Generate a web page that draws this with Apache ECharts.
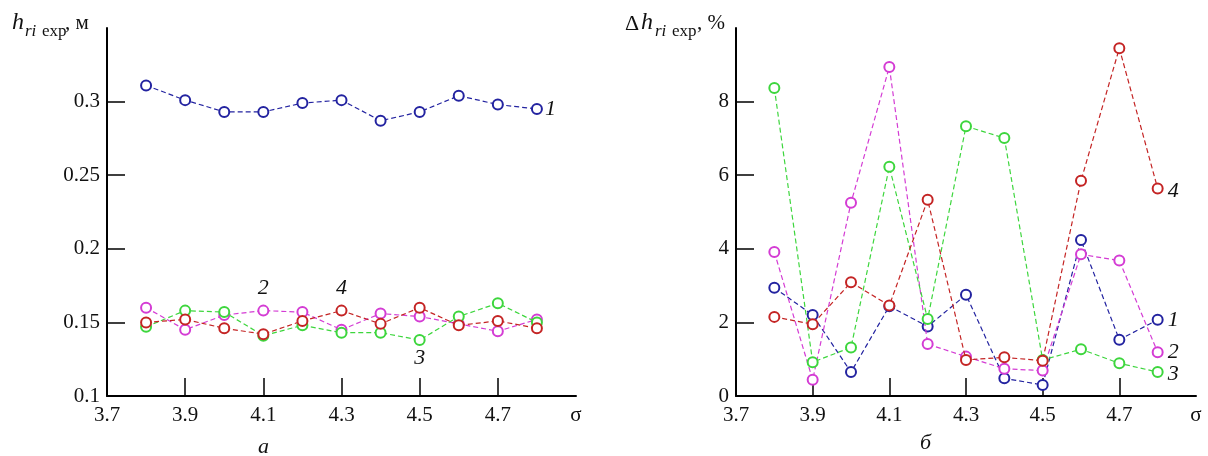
<!DOCTYPE html>
<html>
<head>
<meta charset="utf-8">
<script src="https://cdn.jsdelivr.net/npm/echarts@6/dist/echarts.min.js"></script>
<style>
html,body{margin:0;padding:0;background:#fff;}
#chart{width:1208px;height:456px;}
</style>
</head>
<body>
<div id="chart"></div>
<script>
// ---- data ----
const sigma = [3.8, 3.9, 4.0, 4.1, 4.2, 4.3, 4.4, 4.5, 4.6, 4.7, 4.8];
// panel a: h_ri exp, m
const hSeries1 = [0.311, 0.301, 0.293, 0.293, 0.299, 0.301, 0.287, 0.293, 0.304, 0.298, 0.295];
const hSeries2 = [0.160, 0.145, 0.155, 0.158, 0.157, 0.145, 0.156, 0.154, 0.149, 0.144, 0.152];
const hSeries3 = [0.147, 0.158, 0.157, 0.141, 0.148, 0.143, 0.143, 0.138, 0.154, 0.163, 0.150];
const hSeries4 = [0.150, 0.152, 0.146, 0.142, 0.151, 0.158, 0.149, 0.160, 0.148, 0.151, 0.146];
// panel б: Δh_ri exp, %
const dSeries1 = [2.94, 2.20, 0.65, 2.44, 1.89, 2.75, 0.48, 0.30, 4.24, 1.53, 2.07];
const dSeries2 = [3.91, 0.44, 5.25, 8.94, 1.41, 1.07, 0.74, 0.69, 3.85, 3.68, 1.19];
const dSeries3 = [8.37, 0.92, 1.32, 6.23, 2.09, 7.33, 7.01, 0.98, 1.27, 0.89, 0.65];
const dSeries4 = [2.15, 1.95, 3.09, 2.46, 5.33, 0.98, 1.05, 0.96, 5.85, 9.45, 5.64];
// tick labels
const xTickLabels = [3.7, 3.9, 4.1, 4.3, 4.5, 4.7];
const xTicks = [3.9, 4.1, 4.3, 4.5, 4.7];
const hTickLabels = [0.1, 0.15, 0.2, 0.25, 0.3];
const hTicks = [0.15, 0.2, 0.25, 0.3];
const dTickLabels = [0, 2, 4, 6, 8];
const dTicks = [2, 4, 6, 8];
const seriesNames = ['1', '2', '3', '4'];

const colors = ['#2323a0', '#d43cd4', '#3dd63d', '#c42424'];
const serif = '"Liberation Serif", "DejaVu Serif", serif';

function mkData(arr, labelIdx, labelText, pos, offset) {
  return arr.map((v, i) => {
    if (i === labelIdx) {
      return {
        value: [sigma[i], v],
        label: {
          show: true, formatter: labelText, position: pos, distance: 4,
          offset: offset || [0, 0],
          fontFamily: serif, fontStyle: 'italic', fontSize: 22, color: '#111'
        }
      };
    }
    return [sigma[i], v];
  });
}

function mkSeries(idx, axisIdx, data) {
  return {
    type: 'line', xAxisIndex: axisIdx, yAxisIndex: axisIdx,
    data: data,
    symbol: 'emptyCircle', symbolSize: 10,
    lineStyle: { color: colors[idx], width: 1.2, type: [5, 3] },
    itemStyle: { color: colors[idx], borderColor: colors[idx], borderWidth: 1.3 },
    emphasis: { disabled: true },
    animation: false, z: 3 + idx
  };
}

const baseAxisLine = { show: true, lineStyle: { color: '#000', width: 2 } };
const tickStyle = { show: true, inside: true, length: 18, lineStyle: { color: '#000', width: 1.5 } };
const labelStyle = { fontFamily: serif, fontSize: 21, color: '#111' };

function xAxisCfg(gridIndex) {
  return {
    type: 'value', gridIndex: gridIndex, min: 3.7, max: 4.9, interval: 0.2,
    axisLine: baseAxisLine,
    axisTick: Object.assign({}, tickStyle, { customValues: xTicks }),
    axisLabel: Object.assign({}, labelStyle, {
      margin: 9, showMaxLabel: true,
      customValues: xTickLabels.concat([4.9]),
      formatter: function (v) {
        const r = Math.round(v * 10) / 10;
        if (Math.abs(r - 4.9) < 1e-6) return 'σ';
        return r.toFixed(1);
      }
    }),
    splitLine: { show: false }
  };
}

const option = {
  backgroundColor: '#fff',
  animation: false,
  grid: [
    { left: 107, top: 28, width: 469, height: 368 },
    { left: 736, top: 28, width: 460, height: 368 }
  ],
  xAxis: [xAxisCfg(0), xAxisCfg(1)],
  yAxis: [
    {
      type: 'value', gridIndex: 0, min: 0.1, max: 0.35, interval: 0.05,
      axisLine: baseAxisLine,
      axisTick: Object.assign({}, tickStyle, { customValues: hTicks }),
      axisLabel: Object.assign({}, labelStyle, {
        margin: 7, customValues: hTickLabels,
        formatter: function (v) { return String(Math.round(v * 100) / 100); }
      }),
      splitLine: { show: false }
    },
    {
      type: 'value', gridIndex: 1, min: 0, max: 10, interval: 2,
      axisLine: baseAxisLine,
      axisTick: Object.assign({}, tickStyle, { customValues: dTicks }),
      axisLabel: Object.assign({}, labelStyle, {
        margin: 7, customValues: dTickLabels,
        formatter: function (v) { return String(Math.round(v)); }
      }),
      splitLine: { show: false }
    }
  ],
  series: [
    mkSeries(0, 0, mkData(hSeries1, 10, seriesNames[0], 'right', [-2, 0])),
    mkSeries(1, 0, mkData(hSeries2, 3, seriesNames[1], 'top', [0, -1])),
    mkSeries(2, 0, mkData(hSeries3, 7, seriesNames[2], 'bottom', [0, -3])),
    mkSeries(3, 0, mkData(hSeries4, 5, seriesNames[3], 'top', [0, -1])),
    mkSeries(0, 1, mkData(dSeries1, 10, seriesNames[0], 'right')),
    mkSeries(1, 1, mkData(dSeries2, 10, seriesNames[1], 'right')),
    mkSeries(2, 1, mkData(dSeries3, 10, seriesNames[2], 'right', [0, 2])),
    mkSeries(3, 1, mkData(dSeries4, 10, seriesNames[3], 'right', [0, 3]))
  ],
  graphic: [
    // left title: h_ri exp, м
    { type: 'text', left: 12, top: 11, style: { text: 'h', font: 'italic 24px ' + serif, fill: '#111' } },
    { type: 'text', left: 25, top: 23, style: { text: 'ri', font: 'italic 17px ' + serif, fill: '#111' } },
    { type: 'text', left: 42, top: 23, style: { text: 'exp', font: '17px ' + serif, fill: '#111' } },
    { type: 'text', left: 65, top: 13, style: { text: ', м', font: '21px ' + serif, fill: '#111' } },
    // right title: Δh_ri exp, %
    { type: 'text', left: 625, top: 13, style: { text: 'Δ', font: '22px ' + serif, fill: '#111' } },
    { type: 'text', left: 641, top: 11, style: { text: 'h', font: 'italic 24px ' + serif, fill: '#111' } },
    { type: 'text', left: 655, top: 23, style: { text: 'ri', font: 'italic 17px ' + serif, fill: '#111' } },
    { type: 'text', left: 672, top: 23, style: { text: 'exp', font: '17px ' + serif, fill: '#111' } },
    { type: 'text', left: 697, top: 13, style: { text: ', %', font: '21px ' + serif, fill: '#111' } },
    // captions
    { type: 'text', left: 258, top: 436, style: { text: 'а', font: 'italic 22px ' + serif, fill: '#111' } },
    { type: 'text', left: 920, top: 432, style: { text: 'б', font: 'italic 22px ' + serif, fill: '#111' } }
  ]
};

const chart = echarts.init(document.getElementById('chart'), null, { renderer: 'canvas' });
chart.setOption(option);
</script>
</body>
</html>
